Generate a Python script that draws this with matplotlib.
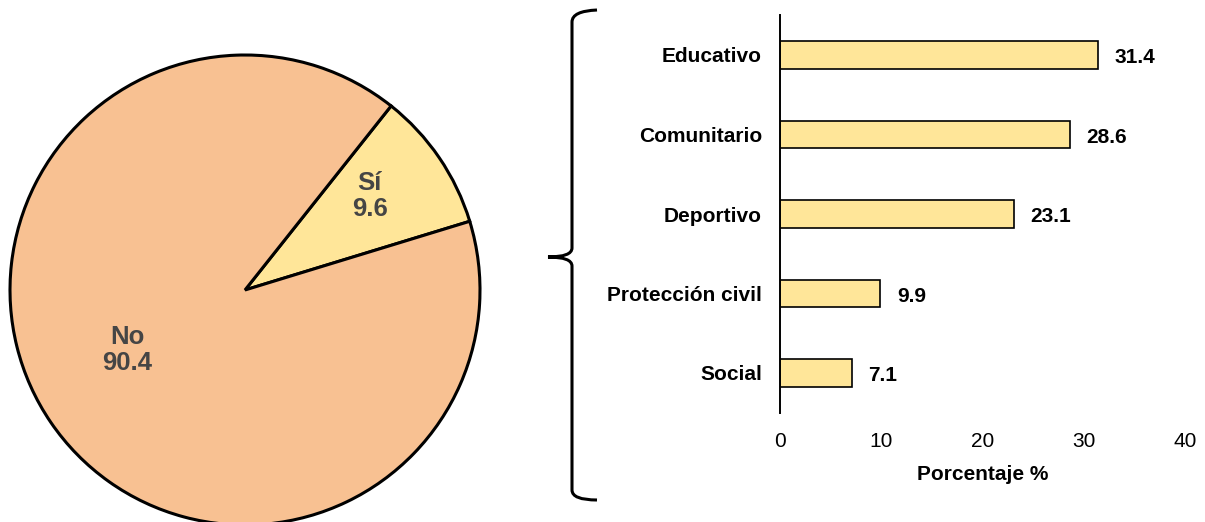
import numpy as np
import matplotlib.pyplot as plt
from matplotlib.path import Path
from matplotlib.patches import PathPatch

plt.rcParams['font.family'] = ['Liberation Sans', 'DejaVu Sans']

# participation yes/no
pie_labels = ["Sí", "No"]
pie_values = [9.6, 90.4]
pie_colors = ["#FFE699", "#F8C192"]

# type of participation
categories = ["Social", "Protección civil", "Deportivo", "Comunitario", "Educativo"]
values = [7.1, 9.9, 23.1, 28.6, 31.4]
x_ticks = [0, 10, 20, 30, 40]

W, H = 1205, 522
fig = plt.figure(figsize=(W / 100, H / 100), dpi=100)

#%% pie
ax_pie = fig.add_axes([10 / W, -3 / H, 470 / W, 470 / H])
wedges, _ = ax_pie.pie(pie_values, colors=pie_colors, startangle=17, counterclock=True,
                       radius=1, wedgeprops=dict(edgecolor="black", linewidth=2.2))
ax_pie.set_xlim(-1, 1)
ax_pie.set_ylim(-1, 1)
ax_pie.set_aspect("equal")
ax_pie.axis("off")

# label positions inside each slice (radius units)
label_pos = [(0.53, 0.40), (-0.50, -0.255)]
for lab, val, (lx, ly) in zip(pie_labels, pie_values, label_pos):
    ax_pie.text(lx, ly, f"{lab}\n{val}", ha="center", va="center",
                fontsize=18.5, fontweight="bold", color="#454545", linespacing=1.15)

#%% brace joining the "Sí" slice to the bar chart
def px(x, y):
    return (x / W, 1 - y / H)

verts = [px(597, 10), px(572, 11), px(572, 22),
         px(572, 248),
         px(572, 257), px(548, 257),
         px(572, 257), px(572, 266),
         px(572, 490),
         px(572, 500), px(597, 500)]
codes = [Path.MOVETO, Path.CURVE3, Path.CURVE3,
         Path.LINETO,
         Path.CURVE3, Path.CURVE3,
         Path.CURVE3, Path.CURVE3,
         Path.LINETO,
         Path.CURVE3, Path.CURVE3]
brace = PathPatch(Path(verts, codes), transform=fig.transFigure, fill=False,
                  edgecolor="black", linewidth=2.2, capstyle="butt")
fig.add_artist(brace)

#%% bars
ax = fig.add_axes([780 / W, (H - 412.75) / H, 405 / W, 397.5 / H])
y = np.arange(len(categories))
bars = ax.barh(y, values, height=0.35, color="#FFE699", edgecolor="black", linewidth=1.2)
for yi, v in zip(y, values):
    ax.annotate(f"{v}", (v, yi), xytext=(12, -2), textcoords="offset points",
                ha="left", va="center", fontsize=15, fontweight="bold")

ax.set_xlim(0, 40)
ax.set_ylim(-0.5, 4.5)
ax.set_xticks(x_ticks)
ax.set_xticklabels([str(t) for t in x_ticks], fontsize=15)
ax.set_yticks(y)
ax.set_yticklabels(categories, fontsize=15, fontweight="bold")
ax.tick_params(axis="x", length=0, pad=14)
ax.tick_params(axis="y", length=0, pad=13)
for s in ["top", "right", "bottom"]:
    ax.spines[s].set_visible(False)
ax.spines["left"].set_linewidth(1.4)
ax.set_xlabel("Porcentaje %", fontsize=15, fontweight="bold", labelpad=10)

plt.savefig("out.png", dpi=100)
